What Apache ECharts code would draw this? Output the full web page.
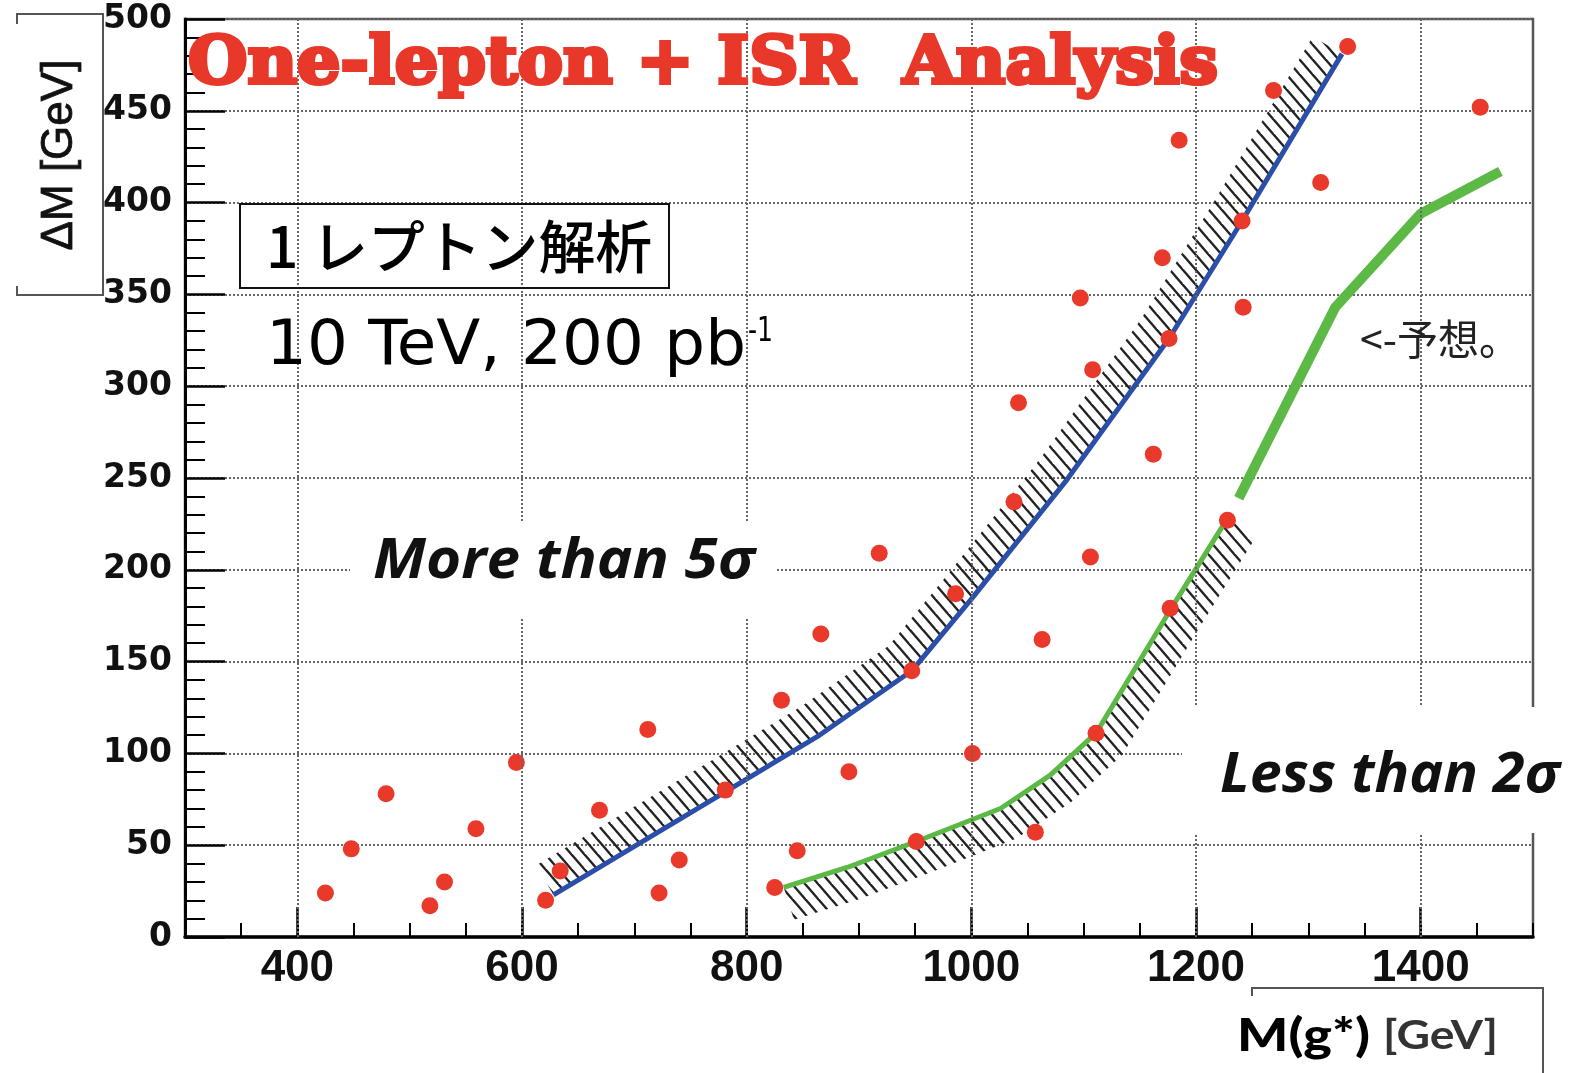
<!DOCTYPE html>
<html>
<head>
<meta charset="utf-8">
<title>One-lepton + ISR Analysis</title>
<script src="https://cdn.jsdelivr.net/npm/echarts@6/dist/echarts.min.js"></script>
<style>
  html, body { margin: 0; padding: 0; background: #fff; }
  #chart { width: 1574px; height: 1073px; }
</style>
</head>
<body>
<div id="chart"></div>
<script>
// Signal points: gluino-star mass M(g*) [GeV] and mass splitting ΔM [GeV]
const pointMass = [425, 448, 479, 518, 531, 559, 595, 621, 634, 669,
                   712, 722, 740, 781, 825, 831, 845, 866, 891, 918,
                   947, 951, 986, 1001, 1038, 1042, 1057, 1063, 1097, 1106,
                   1108, 1111, 1162, 1170, 1176, 1177, 1185, 1228, 1241, 1242,
                   1269, 1311, 1335, 1453];
const pointDeltaM = [24, 48, 78, 17, 30, 59, 95, 20, 36, 69,
                     113, 24, 42, 80, 27, 129, 47, 165, 90, 209,
                     145, 52, 187, 100, 237, 291, 57, 162, 348, 207,
                     309, 111, 263, 370, 326, 179, 434, 227, 390, 343,
                     461, 411, 485, 452];

// 5 sigma discovery contour
const fiveSigmaMass = [628, 781, 865, 947, 1000, 1085, 1176, 1241, 1330];
const fiveSigmaDeltaM = [23, 79, 110, 145, 184, 249, 326, 390, 481];

// 2 sigma contour (computed part)
const twoSigmaMass = [833, 890, 951, 1026, 1070, 1111, 1177, 1228];
const twoSigmaDeltaM = [27, 38, 52, 70, 88, 111, 178, 228];

// 2 sigma contour (expected continuation)
const expectedMass = [1238, 1324, 1400, 1471];
const expectedDeltaM = [239, 343, 394, 417];

// Axis tick labels
const xTickValues = [400, 600, 800, 1000, 1200, 1400];

const zip = (a, b) => a.map((v, i) => [v, b[i]]);

// Diagonal hatch tile used to fill the excluded bands
function makeHatchTile() {
  const w = 13, h = 15;
  const c = document.createElement('canvas');
  c.width = w; c.height = h;
  const g = c.getContext('2d');
  g.strokeStyle = '#222';
  g.lineWidth = 2.4;
  for (let n = -2; n <= 2; n++) {
    g.beginPath();
    g.moveTo(-w, -h + n * h);
    g.lineTo(2 * w, 2 * h + n * h);
    g.stroke();
  }
  return c;
}
const hatchTile = makeHatchTile();

// Band polygon: the curve plus a copy offset along its normal
function offsetBand(pts, dist, sign) {
  const segN = [];
  for (let i = 0; i < pts.length - 1; i++) {
    const dx = pts[i + 1][0] - pts[i][0], dy = pts[i + 1][1] - pts[i][1];
    const len = Math.hypot(dx, dy) || 1;
    segN.push([sign * dy / len, -sign * dx / len]);
  }
  const outer = pts.map((p, i) => {
    let nx, ny;
    if (i === 0) { [nx, ny] = segN[0]; }
    else if (i === pts.length - 1) { [nx, ny] = segN[segN.length - 1]; }
    else {
      nx = segN[i - 1][0] + segN[i][0];
      ny = segN[i - 1][1] + segN[i][1];
      const l = Math.hypot(nx, ny) || 1;
      nx /= l; ny /= l;
    }
    return [p[0] + nx * dist, p[1] + ny * dist];
  });
  return pts.concat(outer.reverse());
}

function hatchSeries(xs, ys, sign) {
  return {
    type: 'custom',
    z: 2,
    clip: true,
    silent: true,
    data: zip(xs, ys),
    renderItem: function (params, api) {
      if (params.dataIndex !== 0) return null;
      const pts = xs.map((x, i) => api.coord([x, ys[i]]));
      return {
        type: 'polygon',
        shape: { points: offsetBand(pts, 34, sign) },
        style: { fill: { image: hatchTile, repeat: 'repeat' }, stroke: null }
      };
    }
  };
}

// Horizontal scale that makes a text span a given width
const measureCtx = document.createElement('canvas').getContext('2d');
function fitScale(text, font, width) {
  measureCtx.font = font;
  return width / measureCtx.measureText(text).width;
}
function fittedText(text, font, left, cy, width, fill, extra) {
  return Object.assign({
    type: 'text',
    x: left,
    y: cy,
    scaleX: fitScale(text, font, width),
    z: 100,
    silent: true,
    style: Object.assign({
      text: text,
      font: font,
      fill: fill,
      textAlign: 'left',
      textVerticalAlign: 'middle'
    }, (extra && extra.style) || {})
  }, (extra && extra.el) || {});
}

const titleFont = 'bold 66px "DejaVu Serif"';
const sigmaFont = 'italic bold 56px "Open Sans"';
const gridDots = { color: '#666', width: 2, type: [2, 2] };

const chart = echarts.init(document.getElementById('chart'), null, { renderer: 'canvas' });

chart.setOption({
  animation: false,
  backgroundColor: '#fff',
  grid: {
    left: 185, right: 41, top: 19, bottom: 136,
    show: true, borderColor: '#555', borderWidth: 2.5,
    backgroundColor: 'transparent',
    outerBoundsMode: 'none'
  },
  xAxis: [
    {
      type: 'value', min: 300, max: 1500, interval: 100,
      position: 'bottom',
      axisLine: { show: true, onZero: false, lineStyle: { color: '#000', width: 3.5 } },
      axisTick: { show: true, inside: true, length: 30, customValues: xTickValues,
                  lineStyle: { color: '#000', width: 2.5 } },
      axisLabel: { show: true, customValues: xTickValues, margin: 10, color: '#111',
                   formatter: v => String(v),
                   fontFamily: '"Liberation Sans", Arial', fontWeight: 'bold', fontSize: 44 },
      splitLine: { show: false }
    },
    {
      type: 'value', min: 300, max: 1500, interval: 50,
      position: 'bottom',
      axisLine: { show: false, onZero: false },
      axisTick: { show: true, inside: true, length: 14, lineStyle: { color: '#000', width: 2 } },
      axisLabel: { show: false },
      splitLine: { show: false }
    }
  ],
  yAxis: {
    type: 'value', min: 0, max: 500, interval: 50,
    axisLine: { show: true, lineStyle: { color: '#000', width: 3 } },
    axisTick: { show: true, inside: true, length: 40, lineStyle: { color: '#000', width: 2.5 } },
    minorTick: { show: true, splitNumber: 5, length: 20, lineStyle: { color: '#000', width: 2 } },
    axisLabel: { show: true, margin: 13, color: '#111',
                 fontFamily: '"DejaVu Sans"', fontWeight: 'bold', fontSize: 33 },
    splitLine: { show: true, lineStyle: gridDots }
  },
  series: [
    {
      // vertical grid lines at the labelled mass values
      type: 'line', data: [], z: 1, silent: true,
      markLine: {
        silent: true, symbol: ['none', 'none'], animation: false,
        label: { show: false },
        lineStyle: gridDots,
        data: xTickValues.map(v => ({ xAxis: v }))
      }
    },
    hatchSeries(fiveSigmaMass, fiveSigmaDeltaM, 1),
    hatchSeries(twoSigmaMass, twoSigmaDeltaM, -1),
    {
      type: 'line', z: 3, data: zip(fiveSigmaMass, fiveSigmaDeltaM),
      showSymbol: false, symbol: 'none', smooth: false,
      lineStyle: { color: '#2b4ea8', width: 5 }
    },
    {
      type: 'line', z: 3, data: zip(twoSigmaMass, twoSigmaDeltaM),
      showSymbol: false, symbol: 'none', smooth: false,
      lineStyle: { color: '#5cb946', width: 5 }
    },
    {
      type: 'line', z: 3, data: zip(expectedMass, expectedDeltaM),
      showSymbol: false, symbol: 'none', smooth: false,
      lineStyle: { color: '#5cb946', width: 10, cap: 'butt' }
    },
    {
      type: 'scatter', z: 4, data: zip(pointMass, pointDeltaM),
      symbol: 'circle', symbolSize: 17,
      itemStyle: { color: '#e8392b', opacity: 1 }
    }
  ],
  graphic: [
    // bracket around the y axis title
    { type: 'polyline', z: 100, silent: true,
      shape: { points: [[17, 24], [17, 14], [103, 14], [103, 295], [17, 295], [17, 286]] },
      style: { stroke: '#555', lineWidth: 2, fill: null } },
    { type: 'text', x: 60, y: 155, rotation: Math.PI / 2, z: 100, silent: true,
      style: { text: 'ΔM [GeV]', font: '44px "Liberation Sans"', fill: '#111',
               stroke: '#111', lineWidth: 0.8,
               textAlign: 'center', textVerticalAlign: 'middle' } },

    // x axis title with its frame
    { type: 'polyline', z: 100, silent: true,
      shape: { points: [[1252, 996], [1252, 988], [1543, 988], [1543, 1073]] },
      style: { stroke: '#555', lineWidth: 2, fill: null } },
    fittedText('M(g*)', '900 46px Lato', 1237, 1036, 133, '#000'),
    fittedText('[GeV]', 'bold 40px Lato', 1383, 1036, 115, '#333'),

    // headline
    fittedText('One-lepton + ISR  Analysis', titleFont, 188, 66, 1030, '#e8382a',
               { style: { stroke: '#e8382a', lineWidth: 4 } }),

    // boxed Japanese caption and run conditions
    { type: 'rect', z: 100, silent: true,
      shape: { x: 240, y: 204, width: 429, height: 84 },
      style: { stroke: '#111', lineWidth: 2, fill: null } },
    fittedText('1 レプトン解析', '500 57px "Noto Sans CJK JP"', 266, 246, 386, '#000'),
    fittedText('10 TeV, 200 pb', '62px "DejaVu Sans"', 266, 348, 480, '#000'),
    fittedText('-1', '34px "DejaVu Sans"', 748, 332, 25, '#000'),

    // region labels on white patches
    { type: 'rect', z: 50, silent: true,
      shape: { x: 350, y: 522, width: 427, height: 96 }, style: { fill: '#fff' } },
    fittedText('More than 5σ', sigmaFont, 373, 562, 382, '#111'),
    { type: 'rect', z: 50, silent: true,
      shape: { x: 1182, y: 707, width: 392, height: 126 }, style: { fill: '#fff' } },
    fittedText('Less than 2σ', sigmaFont, 1220, 776, 340, '#111'),

    fittedText('<-予想。', '42px "Noto Sans CJK JP"', 1360, 339, 160, '#222')
  ]
});
</script>
</body>
</html>
